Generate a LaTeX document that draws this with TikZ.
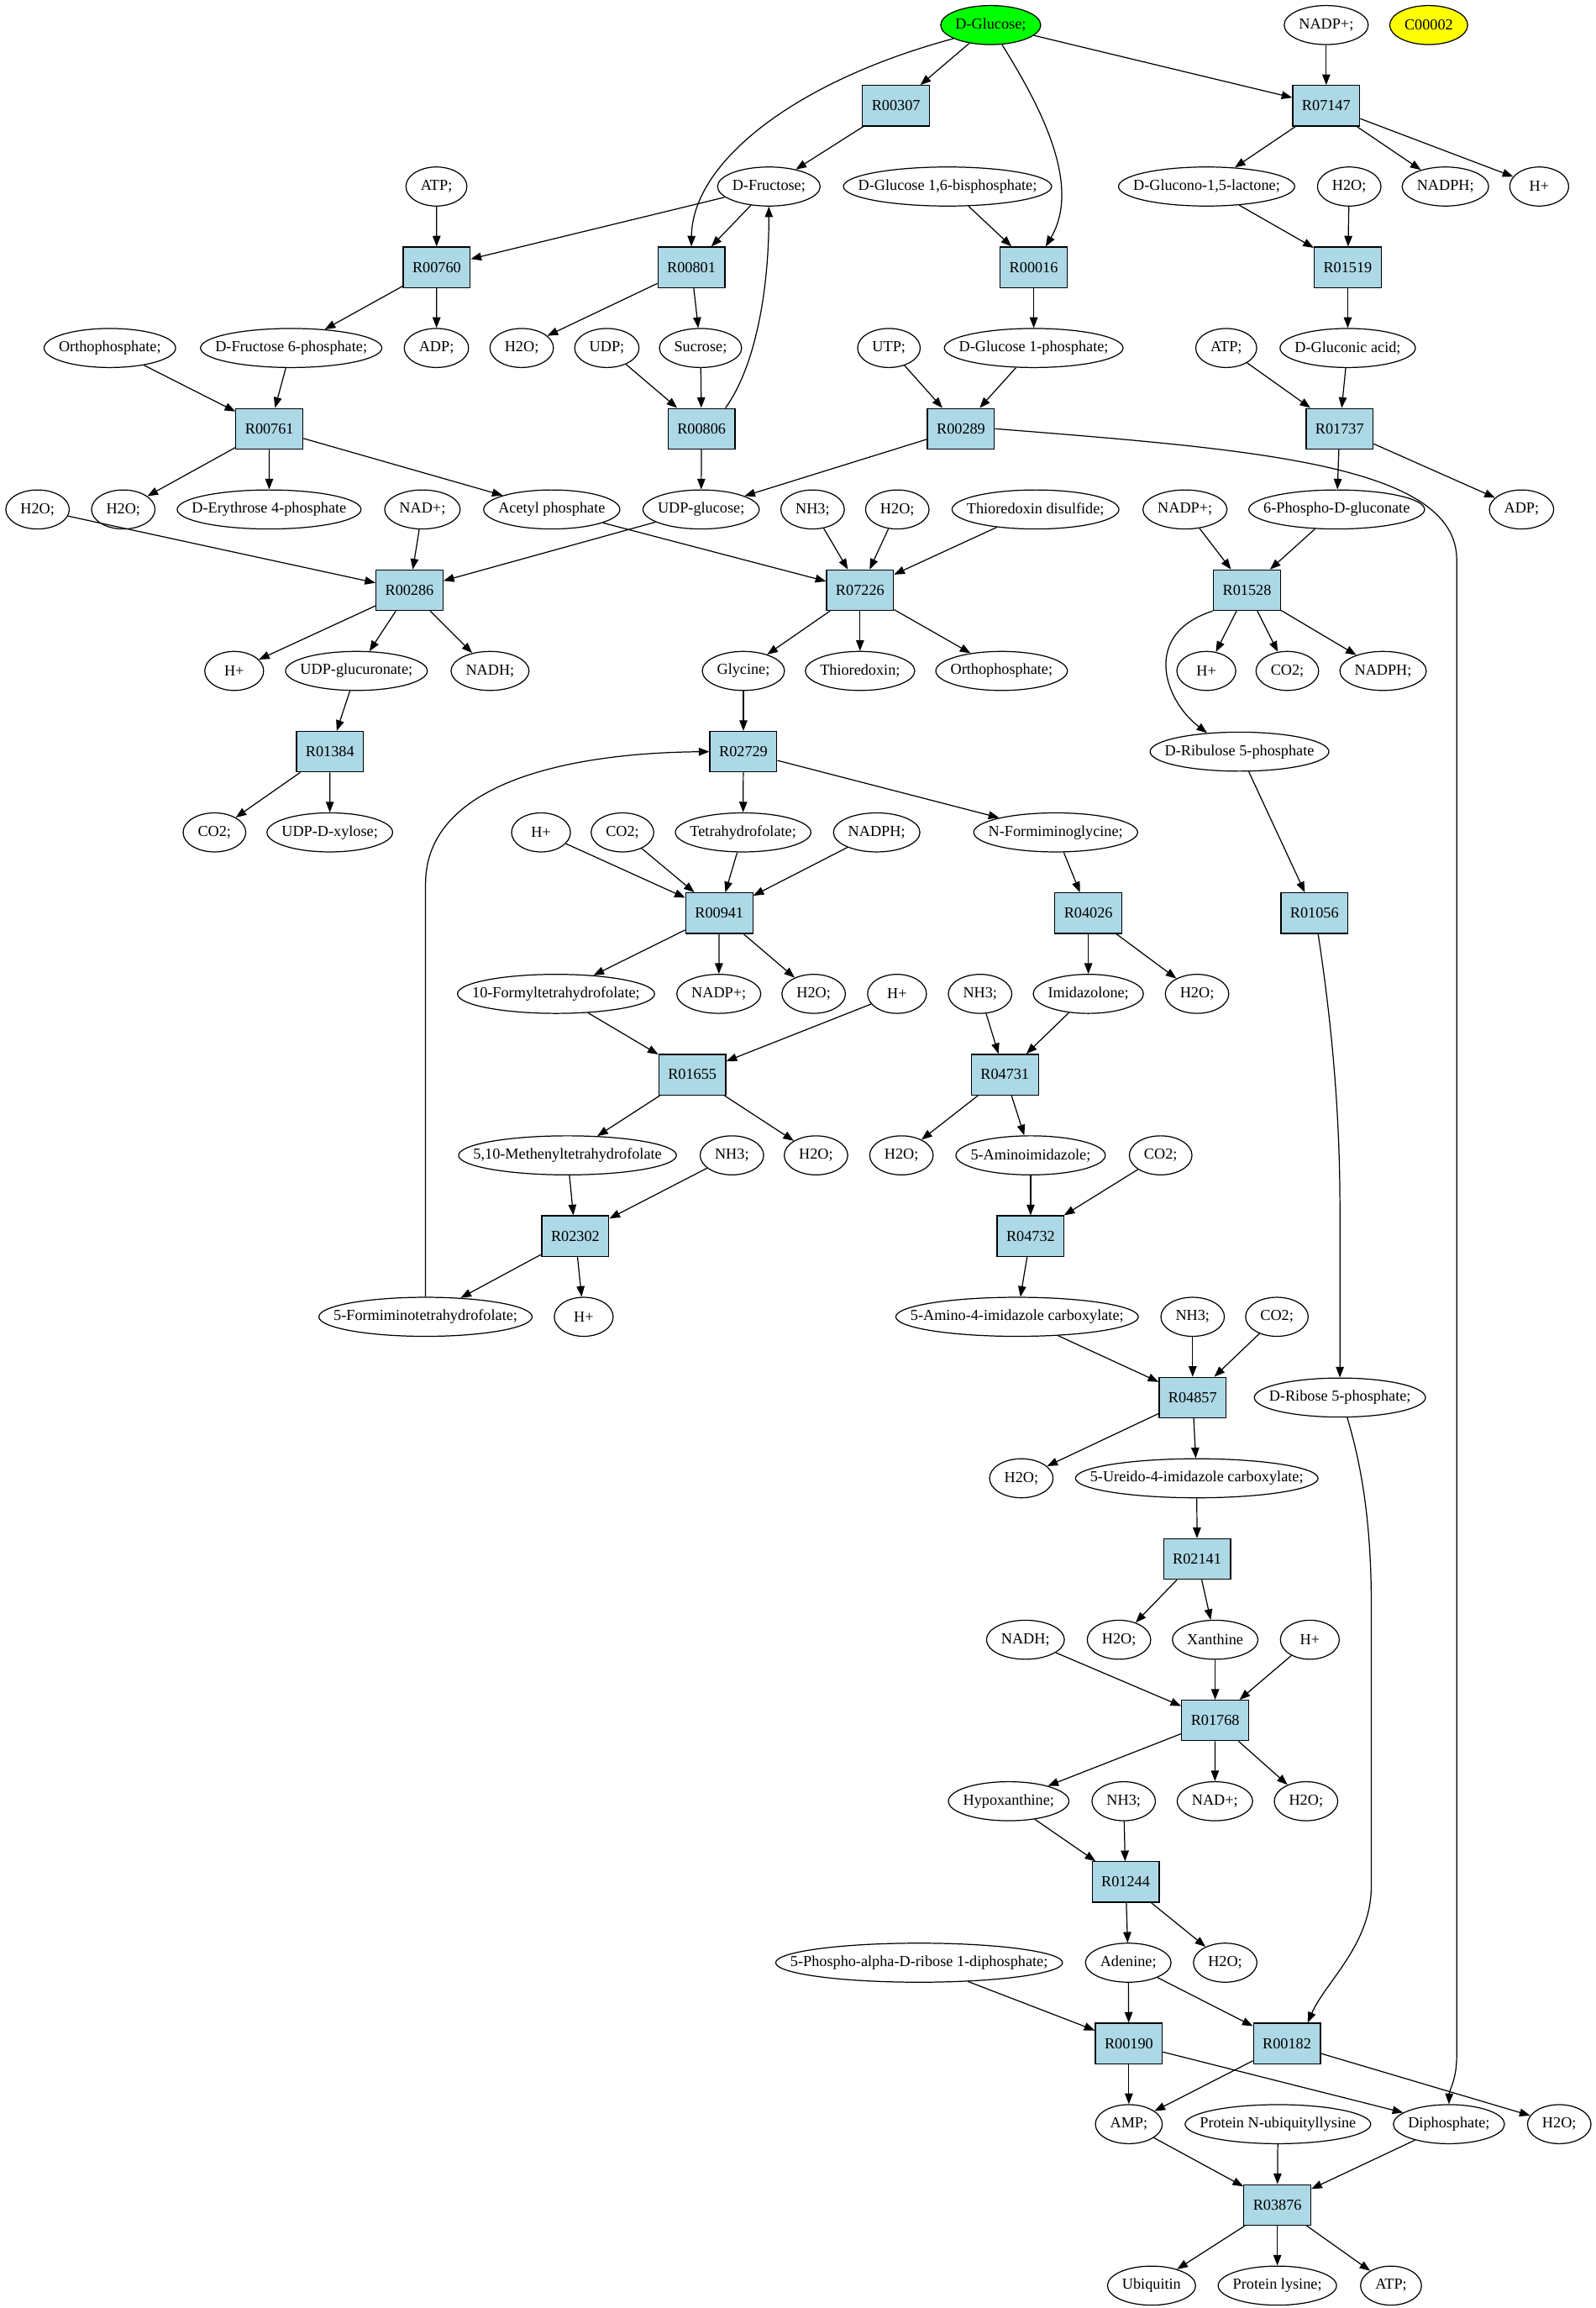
\documentclass[tikz,border=0pt]{standalone}
\usepackage{fontspec}
\setmainfont{Liberation Serif}
\usetikzlibrary{arrows.meta,shapes.geometric}
\definecolor{rxnblue}{HTML}{ADD8E6}
\definecolor{glcgreen}{HTML}{00FF00}
\definecolor{cpdyellow}{HTML}{FFFF00}
\font\measfont="Liberation Serif" at 10.4pt
\newdimen\mtw
\newcommand\nf{\fontsize{10.4pt}{12pt}\selectfont}
\newcommand\met[5][]{%
  \setbox0=\hbox{\measfont #5}\global\mtw=\wd0
  \pgfmathsetmacro\mww{max(40,\the\mtw+20)}%
  \node[metab,#1,minimum width=\mww pt,label={[mlab]center:{#5}}] (#2) at (#3,#4) {};}
\newcommand\rxn[3]{\node[rxnbox] (#1) at (#2,#3) {#1};}
\tikzset{
  metab/.style={ellipse, draw, minimum height=26.5pt, inner sep=0pt},
  mlab/.style={inner sep=0pt, font=\nf},
  rxnbox/.style={rectangle, draw, fill=rxnblue, minimum width=45.5pt, minimum height=27.5pt, inner sep=0pt, font=\nf},
  flow/.style={->}
}
\begin{document}
\begin{tikzpicture}[x=1pt,y=-1pt,line width=0.7pt,>={Triangle[length=7.2pt,width=5.4pt]}]
\useasboundingbox (0,0) rectangle (1083,1566.6);
% row 0
\met[fill=glcgreen]{dglc}{672.6}{17}{D-Glucose;}
\met{nadpA}{900.4}{17}{NADP+;}
\met[fill=cpdyellow]{cpd}{970}{17}{C00002}
% row 1
\rxn{R00307}{608.3}{71.8}
\rxn{R07147}{900.4}{71.8}
% row 2
\met{atpA}{296.3}{126.6}{ATP;}
\met{dfru}{522}{126.6}{D-Fructose;}
\met{dg16}{643.3}{126.6}{D-Glucose 1,6-bisphosphate;}
\met{dgl15}{819.2}{126.6}{D-Glucono-1,5-lactone;}
\met{h2oA}{916}{126.6}{H2O;}
\met{nadphA}{981.3}{126.6}{NADPH;}
\met{hA}{1045}{126.6}{H+}
% row 3
\rxn{R00760}{296.5}{181.4}
\rxn{R00801}{469.4}{181.4}
\rxn{R00016}{701.8}{181.4}
\rxn{R01519}{915}{181.4}
% row 4
\met{orthoA}{74.6}{236.2}{Orthophosphate;}
\met{f6p}{197.7}{236.2}{D-Fructose 6-phosphate;}
\met{adpA}{296.3}{236.2}{ADP;}
\met{h2oB}{354.2}{236.2}{H2O;}
\met{udp}{412}{236.2}{UDP;}
\met{sucr}{475.6}{236.2}{Sucrose;}
\met{utp}{603.5}{236.2}{UTP;}
\met{g1p}{701.8}{236.2}{D-Glucose 1-phosphate;}
\met{atpB}{832.5}{236.2}{ATP;}
\met{glcn}{915}{236.2}{D-Gluconic acid;}
% row 5
\rxn{R00761}{182.9}{291}
\rxn{R00806}{476.3}{291}
\rxn{R00289}{652.4}{291}
\rxn{R01737}{909.5}{291}
% row 6
\met{h2oC}{25.5}{345.8}{H2O;}
\met{h2oD}{83.7}{345.8}{H2O;}
\met{e4p}{182.7}{345.8}{D-Erythrose 4-phosphate}
\met{nadA}{286.8}{345.8}{NAD+;}
\met{acp}{374.6}{345.8}{Acetyl phosphate}
\met{udpg}{476}{345.8}{UDP-glucose;}
\met{nh3A}{551.7}{345.8}{NH3;}
\met{h2oE}{609.2}{345.8}{H2O;}
\met{trxss}{703}{345.8}{Thioredoxin disulfide;}
\met{nadpB}{804.5}{345.8}{NADP+;}
\met{pglc}{907.5}{345.8}{6-Phospho-D-gluconate}
\met{adpB}{1033}{345.8}{ADP;}
% row 7
\rxn{R00286}{278}{400.6}
\rxn{R07226}{583.9}{400.6}
\rxn{R01528}{846.6}{400.6}
% row 8
\met{hB}{159}{455.4}{H+}
\met{udpga}{242}{455.4}{UDP-glucuronate;}
\met{nadhA}{332.7}{455.4}{NADH;}
\met{gly}{504.7}{455.4}{Glycine;}
\met{trx}{583.9}{455.4}{Thioredoxin;}
\met{orthoB}{680}{455.4}{Orthophosphate;}
\met{hC}{819}{455.4}{H+}
\met{co2A}{874}{455.4}{CO2;}
\met{nadphB}{939}{455.4}{NADPH;}
% row 9
\rxn{R01384}{224}{510.2}
\rxn{R02729}{504.7}{510.2}
\met{ru5p}{841.5}{510.2}{D-Ribulose 5-phosphate}
% row 10
\met{co2B}{145.6}{565}{CO2;}
\met{udpx}{223.9}{565}{UDP-D-xylose;}
\met{hD}{367.3}{565}{H+}
\met{co2C}{422.6}{565}{CO2;}
\met{thf}{504.5}{565}{Tetrahydrofolate;}
\met{nadphC}{595.2}{565}{NADPH;}
\met{nfg}{716.7}{565}{N-Formiminoglycine;}
% row 11
\rxn{R00941}{488.3}{619.8}
\rxn{R04026}{738.9}{619.8}
\rxn{R01056}{892.4}{619.8}
% row 12
\met{fthf}{377.5}{674.6}{10-Formyltetrahydrofolate;}
\met{nadpC}{488}{674.6}{NADP+;}
\met{h2oF}{552.4}{674.6}{H2O;}
\met{hE}{609}{674.6}{H+}
\met{nh3B}{665.4}{674.6}{NH3;}
\met{imz}{738.9}{674.6}{Imidazolone;}
\met{h2oG}{812.7}{674.6}{H2O;}
% row 13
\rxn{R01655}{470}{729.4}
\rxn{R04731}{682.2}{729.4}
% row 14
\met{mthf}{385.3}{784.2}{5,10-Methenyltetrahydrofolate}
\met{nh3C}{496.9}{784.2}{NH3;}
\met{h2oH}{554}{784.2}{H2O;}
\met{h2oI}{612}{784.2}{H2O;}
\met{aimz}{699.7}{784.2}{5-Aminoimidazole;}
\met{co2D}{788}{784.2}{CO2;}
% row 15
\rxn{R02302}{390.6}{839}
\rxn{R04732}{699.7}{839}
% row 16
\met{fotf}{288.9}{893.8}{5-Formiminotetrahydrofolate;}
\met{hF}{396.3}{893.8}{H+}
\met{aicx}{690.5}{893.8}{5-Amino-4-imidazole carboxylate;}
\met{nh3D}{809.7}{893.8}{NH3;}
\met{co2E}{866.9}{893.8}{CO2;}
% row 17
\rxn{R04857}{809.7}{948.6}
\met{r5p}{909.7}{948.6}{D-Ribose 5-phosphate;}
% row 18
\met{h2oJ}{693.4}{1003.4}{H2O;}
\met{uicx}{812.5}{1003.4}{5-Ureido-4-imidazole carboxylate;}
% row 19
\rxn{R02141}{812.7}{1058.2}
% row 20
\met{nadhB}{696.2}{1113}{NADH;}
\met{h2oK}{759.7}{1113}{H2O;}
\met{xan}{825}{1113}{Xanthine}
\met{hG}{889.3}{1113}{H+}
% row 21
\rxn{R01768}{825}{1167.8}
% row 22
\met{hyp}{684.8}{1222.6}{Hypoxanthine;}
\met{nh3E}{762.9}{1222.6}{NH3;}
\met{nadB}{824.8}{1222.6}{NAD+;}
\met{h2oL}{886.7}{1222.6}{H2O;}
% row 23
\rxn{R01244}{764.2}{1277.4}
% row 24
\met{prpp}{624}{1332.2}{5-Phospho-alpha-D-ribose 1-diphosphate;}
\met{ade}{766}{1332.2}{Adenine;}
\met{h2oM}{831.8}{1332.2}{H2O;}
% row 25
\rxn{R00190}{766.4}{1387}
\rxn{R00182}{873.7}{1387}
% row 26
\met{amp}{766.4}{1441.8}{AMP;}
\met{pnub}{867.6}{1441.8}{Protein N-ubiquityllysine}
\met{ppi}{983.7}{1441.8}{Diphosphate;}
\met{h2oN}{1058.6}{1441.8}{H2O;}
% row 27
\rxn{R03876}{867.2}{1496.6}
% row 28
\met{ubq}{781.8}{1551.4}{Ubiquitin}
\met{plys}{867.2}{1551.4}{Protein lysine;}
\met{atpC}{944.4}{1551.4}{ATP;}

% straight connectors
\foreach \a/\b in {dglc/R00307, dglc/R07147, nadpA/R07147, R00307/dfru, R07147/dgl15, R07147/nadphA, R07147/hA,
  atpA/R00760, dfru/R00760, dfru/R00801, dg16/R00016, dgl15/R01519, h2oA/R01519,
  R00760/f6p, R00760/adpA, R00801/h2oB, R00801/sucr, R00016/g1p, R01519/glcn,
  orthoA/R00761, f6p/R00761, udp/R00806, sucr/R00806, utp/R00289, g1p/R00289, atpB/R01737, glcn/R01737,
  R00761/h2oD, R00761/e4p, R00761/acp, R00806/udpg, R00289/udpg, R01737/pglc, R01737/adpB,
  h2oC/R00286, nadA/R00286, udpg/R00286, acp/R07226, nh3A/R07226, h2oE/R07226, trxss/R07226, nadpB/R01528, pglc/R01528,
  R00286/hB, R00286/udpga, R00286/nadhA, R07226/gly, R07226/trx, R07226/orthoB, R01528/hC, R01528/co2A, R01528/nadphB,
  udpga/R01384, gly/R02729, R01384/co2B, R01384/udpx, R02729/thf, R02729/nfg, ru5p/R01056,
  hD/R00941, co2C/R00941, thf/R00941, nadphC/R00941, nfg/R04026,
  R00941/fthf, R00941/nadpC, R00941/h2oF, R04026/imz, R04026/h2oG,
  fthf/R01655, hE/R01655, nh3B/R04731, imz/R04731,
  R01655/mthf, R01655/h2oH, R04731/h2oI, R04731/aimz,
  mthf/R02302, nh3C/R02302, aimz/R04732, co2D/R04732,
  R02302/fotf, R02302/hF, R04732/aicx,
  aicx/R04857, nh3D/R04857, co2E/R04857,
  R04857/h2oJ, R04857/uicx, uicx/R02141, R02141/h2oK, R02141/xan,
  nadhB/R01768, xan/R01768, hG/R01768, R01768/hyp, R01768/nadB, R01768/h2oL,
  hyp/R01244, nh3E/R01244, R01244/ade, R01244/h2oM,
  prpp/R00190, ade/R00190, ade/R00182, R00190/amp, R00190/ppi, R00182/amp, R00182/h2oN,
  amp/R03876, pnub/R03876, ppi/R03876, R03876/ubq, R03876/plys, R03876/atpC}
  \draw[flow] (\a) -- (\b);

% curved connectors
\draw[flow] (dglc.200) .. controls (540,55) and (470,110) .. (R00801.north);
\draw[flow] (dglc.300) .. controls (705,70) and (735,125) .. (R00016.60);
\draw[flow] (R00806.41) .. controls (512,250) and (522,200) .. (dfru.south);
\draw[flow] (R00289.east) .. controls (850,305) and (989,315) .. (989,380) -- (989,1395) .. controls (989,1412) and (984,1418) .. (ppi.north);
\draw[flow] (R01528.south west) .. controls (775,430) and (790,475) .. (ru5p.150);
\draw[flow] (fotf.north) -- (288.9,600) .. controls (288.9,530) and (390,511) .. (R02729.west);
\draw[flow] (R01056.280) .. controls (905,700) and (909.7,760) .. (909.7,820) -- (r5p.north);
\draw[flow] (r5p.290) .. controls (926,1000) and (931,1040) .. (931,1090) -- (931,1280) .. controls (931,1320) and (900,1345) .. (R00182.45);
\end{tikzpicture}
\end{document}
